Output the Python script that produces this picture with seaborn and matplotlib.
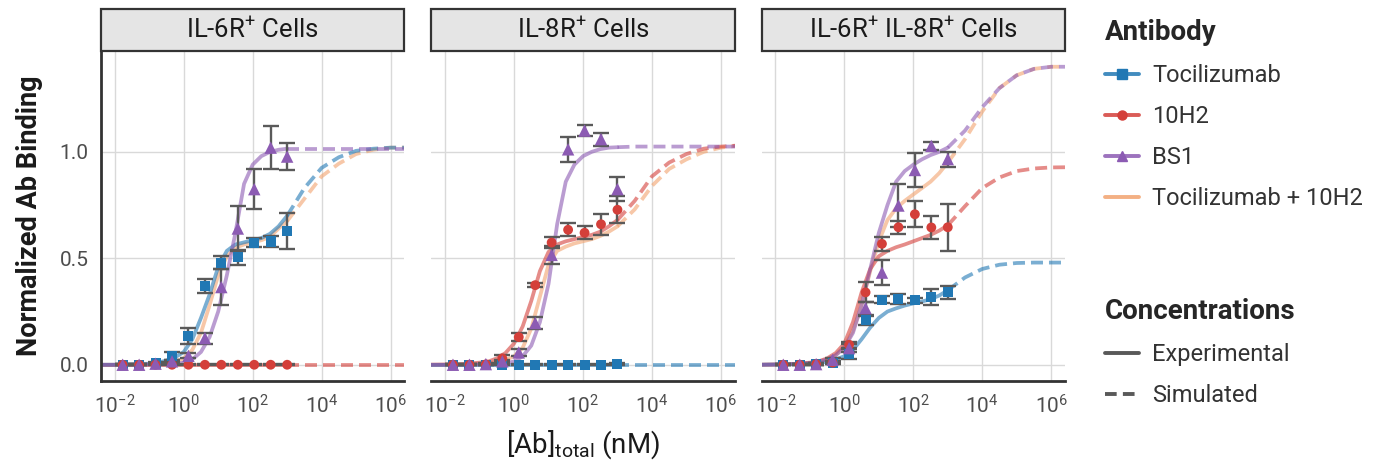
import numpy as np
import pandas as pd
import matplotlib
matplotlib.use('Agg')
import matplotlib.pyplot as plt
from matplotlib.lines import Line2D
from matplotlib.patches import Rectangle
from matplotlib.ticker import NullLocator, FormatStrFormatter
import matplotlib.colors as mcolors
import seaborn as sns

# %% data
panels = ['IL-6R$^{+}$ Cells', 'IL-8R$^{+}$ Cells', 'IL-6R$^{+}$ IL-8R$^{+}$ Cells']
antibodies = ['Tocilizumab', '10H2', 'BS1', 'Tocilizumab + 10H2']

# experimental concentrations [nM] (3-fold dilutions)
exp_conc = [0.0169, 0.0508, 0.152, 0.457, 1.37, 4.12, 12.3, 37.0, 111, 333, 1000]

# panel 1: IL-6R+ cells
p1_toci = [0, 0, 0.01, 0.04, 0.136, 0.37, 0.48, 0.505, 0.574, 0.579, 0.629]
p1_toci_err = [0.003, 0.003, 0.004, 0.019, 0.037, 0.031, 0.031, 0.035, 0.02, 0.027, 0.084]
p1_10h2 = [0, 0, 0, 0, 0, 0, 0, 0, 0, 0, 0]
p1_10h2_err = [0.003, 0.003, 0.003, 0.003, 0.003, 0.003, 0.003, 0.003, 0.003, 0.003, 0.003]
p1_bs1 = [0, 0, 0.005, 0.016, 0.042, 0.125, 0.365, 0.64, 0.825, 1.02, 0.978]
p1_bs1_err = [0.003, 0.003, 0.003, 0.005, 0.012, 0.026, 0.085, 0.104, 0.095, 0.10, 0.063]

# panel 2: IL-8R+ cells
p2_toci = [0, 0, 0, 0, 0, 0, 0, 0, 0, 0, 0.004]
p2_toci_err = [0.003, 0.003, 0.003, 0.003, 0.003, 0.003, 0.003, 0.003, 0.003, 0.003, 0.003]
p2_10h2 = [0, 0, 0.002, 0.03, 0.13, 0.374, 0.574, 0.634, 0.62, 0.66, 0.728]
p2_10h2_err = [0.003, 0.003, 0.003, 0.015, 0.02, 0.01, 0.027, 0.03, 0.03, 0.05, 0.063]
p2_bs1 = [0, 0, 0.003, 0.016, 0.058, 0.196, 0.516, 1.012, 1.10, 1.06, 0.825]
p2_bs1_err = [0.003, 0.003, 0.003, 0.008, 0.016, 0.029, 0.041, 0.06, 0.027, 0.031, 0.056]

# panel 3: IL-6R+ IL-8R+ cells
p3_toci = [0, 0, 0.002, 0.008, 0.052, 0.208, 0.305, 0.308, 0.302, 0.32, 0.34]
p3_toci_err = [0.003, 0.003, 0.003, 0.005, 0.023, 0.02, 0.016, 0.023, 0.012, 0.038, 0.03]
p3_10h2 = [0, 0, 0.003, 0.01, 0.094, 0.34, 0.568, 0.646, 0.707, 0.645, 0.646]
p3_10h2_err = [0.003, 0.003, 0.003, 0.008, 0.015, 0.047, 0.034, 0.03, 0.06, 0.056, 0.11]
p3_bs1 = [0, 0, 0.003, 0.023, 0.078, 0.266, 0.433, 0.748, 0.915, 1.028, 0.966]
p3_bs1_err = [0.003, 0.003, 0.003, 0.008, 0.02, 0.03, 0.06, 0.10, 0.08, 0.02, 0.035]

# model curves, log10 of total antibody concentration [nM]
sim_log10 = [-2.5, -2, -1.5, -1, -0.75, -0.5, -0.25, 0, 0.25, 0.5, 0.75, 1, 1.25, 1.5,
             1.75, 2, 2.25, 2.5, 2.75, 3, 3.5, 4, 4.5, 5, 5.5, 6, 6.5]
exp_max_log10 = 3  # experiments stop at 1000 nM, simulated beyond

s1_toci = [0, 0, 0.002, 0.005, 0.01, 0.02, 0.035, 0.06, 0.12, 0.22, 0.33, 0.46, 0.535, 0.565,
           0.575, 0.585, 0.595, 0.615, 0.65, 0.70, 0.83, 0.925, 0.975, 1.005, 1.015, 1.02, 1.02]
s1_10h2 = [0] * 27
s1_bs1 = [0, 0, 0, 0.001, 0.002, 0.003, 0.005, 0.01, 0.025, 0.06, 0.13, 0.25, 0.42, 0.62,
          0.85, 0.94, 0.98, 1.0, 1.01, 1.015, 1.015, 1.015, 1.015, 1.015, 1.015, 1.015, 1.015]
s1_combo = [0, 0, 0.001, 0.002, 0.004, 0.008, 0.015, 0.03, 0.07, 0.15, 0.28, 0.42, 0.51, 0.55,
            0.565, 0.575, 0.585, 0.60, 0.64, 0.675, 0.78, 0.885, 0.945, 0.99, 1.01, 1.02, 1.02]

s2_toci = [0] * 27
s2_10h2 = [0, 0.001, 0.003, 0.01, 0.015, 0.03, 0.055, 0.10, 0.18, 0.30, 0.44, 0.53, 0.565, 0.58,
           0.59, 0.60, 0.61, 0.625, 0.65, 0.68, 0.77, 0.885, 0.95, 0.99, 1.015, 1.025, 1.03]
s2_bs1 = [0, 0, 0, 0.001, 0.002, 0.004, 0.008, 0.015, 0.04, 0.09, 0.20, 0.38, 0.66, 0.86,
          0.94, 0.98, 1.0, 1.013, 1.02, 1.022, 1.025, 1.025, 1.025, 1.025, 1.025, 1.025, 1.025]
s2_combo = [0, 0, 0.001, 0.004, 0.007, 0.012, 0.022, 0.04, 0.08, 0.17, 0.32, 0.47, 0.535, 0.555,
            0.57, 0.58, 0.59, 0.605, 0.625, 0.65, 0.73, 0.84, 0.92, 0.965, 1.0, 1.02, 1.03]

s3_toci = [0, 0.001, 0.002, 0.005, 0.008, 0.014, 0.025, 0.04, 0.07, 0.12, 0.175, 0.22, 0.25, 0.265,
           0.278, 0.288, 0.297, 0.308, 0.325, 0.35, 0.41, 0.45, 0.47, 0.478, 0.48, 0.48, 0.48]
s3_10h2 = [0, 0.001, 0.003, 0.01, 0.016, 0.03, 0.055, 0.10, 0.20, 0.34, 0.45, 0.51, 0.535, 0.552,
           0.565, 0.58, 0.595, 0.61, 0.63, 0.655, 0.745, 0.83, 0.88, 0.91, 0.922, 0.927, 0.928]
s3_bs1 = [0, 0.001, 0.003, 0.008, 0.014, 0.025, 0.045, 0.08, 0.15, 0.28, 0.45, 0.62, 0.75, 0.86,
          0.91, 0.94, 0.965, 0.985, 1.0, 1.02, 1.10, 1.21, 1.30, 1.36, 1.39, 1.40, 1.40]
s3_combo = [0, 0.001, 0.003, 0.008, 0.014, 0.025, 0.045, 0.085, 0.16, 0.28, 0.44, 0.58, 0.68, 0.735,
            0.77, 0.80, 0.83, 0.86, 0.90, 0.95, 1.06, 1.19, 1.30, 1.36, 1.39, 1.40, 1.40]

marker_colors = {'Tocilizumab': '#2178B4', '10H2': '#D43F3A', 'BS1': '#8C5BB3',
                 'Tocilizumab + 10H2': '#F2A36E'}
marker_shapes = {'Tocilizumab': 's', '10H2': 'o', 'BS1': '^'}
marker_sizes = {'Tocilizumab': 52, '10H2': 50, 'BS1': 80}

# %% long tables
exp_sets = [(p1_toci, p1_toci_err, p1_10h2, p1_10h2_err, p1_bs1, p1_bs1_err),
            (p2_toci, p2_toci_err, p2_10h2, p2_10h2_err, p2_bs1, p2_bs1_err),
            (p3_toci, p3_toci_err, p3_10h2, p3_10h2_err, p3_bs1, p3_bs1_err)]
sim_sets = [(s1_toci, s1_10h2, s1_bs1, s1_combo),
            (s2_toci, s2_10h2, s2_bs1, s2_combo),
            (s3_toci, s3_10h2, s3_bs1, s3_combo)]

exp_rows = []
for p, vals in zip(panels, exp_sets):
    for k, ab in enumerate(antibodies[:3]):
        for c, y, e in zip(exp_conc, vals[2 * k], vals[2 * k + 1]):
            exp_rows.append({'panel': p, 'Antibody': ab, 'conc': c, 'binding': y, 'err': e})
exp_df = pd.DataFrame(exp_rows)

sim_rows = []
for p, vals in zip(panels, sim_sets):
    for ab, ys in zip(antibodies, vals):
        for lx, y in zip(sim_log10, ys):
            if lx <= exp_max_log10:
                sim_rows.append({'panel': p, 'Antibody': ab, 'conc': 10 ** lx, 'binding': y,
                                 'Concentrations': 'Experimental'})
            if lx >= exp_max_log10:
                sim_rows.append({'panel': p, 'Antibody': ab, 'conc': 10 ** lx, 'binding': y,
                                 'Concentrations': 'Simulated'})
sim_df = pd.DataFrame(sim_rows)

# %% plot
sns.set_theme(style='whitegrid')
plt.rcParams['font.family'] = ['Roboto', 'DejaVu Sans']
plt.rcParams['mathtext.fontset'] = 'custom'
plt.rcParams['mathtext.rm'] = 'Roboto'
plt.rcParams['mathtext.it'] = 'Roboto:italic'
plt.rcParams['mathtext.bf'] = 'Roboto:bold'
plt.rcParams['mathtext.default'] = 'regular'

W, H = 1374, 467
fig, axes = plt.subplots(1, 3, figsize=(W / 100, H / 100), dpi=100, sharey=True)
fig.subplots_adjust(left=101 / W, right=1065 / W, bottom=1 - 380.5 / H, top=1 - 51 / H,
                    wspace=27 / 304)

line_order = ['Tocilizumab + 10H2', '10H2', 'Tocilizumab', 'BS1']
dash_map = {'Experimental': '', 'Simulated': (3.2, 1.6)}

for i, (ax, p) in enumerate(zip(axes, panels)):
    sd = sim_df[sim_df['panel'] == p]
    sns.lineplot(ax=ax, data=sd, x='conc', y='binding', hue='Antibody', style='Concentrations',
                 hue_order=line_order, palette=marker_colors, dashes=dash_map,
                 estimator=None, sort=True, linewidth=2.7, alpha=0.6, legend=False, zorder=2)
    ed = exp_df[exp_df['panel'] == p]
    for ab in antibodies[:3]:
        d = ed[ed['Antibody'] == ab]
        ax.errorbar(d['conc'], d['binding'], yerr=d['err'], fmt='none', ecolor='#5A5A5A',
                    elinewidth=1.7, capsize=5.5, capthick=1.7, zorder=3)
    sns.scatterplot(ax=ax, data=ed, x='conc', y='binding', hue='Antibody', style='Antibody',
                    size='Antibody', sizes=marker_sizes, hue_order=antibodies[:3],
                    palette=marker_colors, markers=marker_shapes,
                    linewidth=0, legend=False, zorder=4)

    ax.set_xscale('log')
    ax.set_xlim(10 ** -2.4, 10 ** 6.4)
    ax.set_ylim(-0.074, 1.474)
    ax.set_xticks([1e-2, 1e0, 1e2, 1e4, 1e6])
    ax.xaxis.set_minor_locator(NullLocator())
    ax.set_yticks([0, 0.5, 1.0])
    ax.yaxis.set_major_formatter(FormatStrFormatter('%.1f'))
    ax.grid(True, color='#D9D9D9', linewidth=1.0)
    ax.set_xlabel('')
    ax.set_ylabel('')
    for side in ['top', 'right']:
        ax.spines[side].set_visible(False)
    ax.spines['bottom'].set_color('#333333')
    ax.spines['bottom'].set_linewidth(2.0)
    if i == 0:
        ax.spines['left'].set_color('#333333')
        ax.spines['left'].set_linewidth(2.0)
    else:
        ax.spines['left'].set_visible(False)
    ax.tick_params(axis='x', length=5, width=1.2, color='#555555', labelsize=15,
                   labelcolor='#4D4D4D', pad=5)
    ax.tick_params(axis='y', length=5 if i == 0 else 0, width=1.2, color='#555555',
                   labelsize=15, labelcolor='#4D4D4D', pad=4)

    strip_h = 42 / 329.5
    ax.add_patch(Rectangle((0, 1), 1, strip_h, transform=ax.transAxes, clip_on=False,
                           facecolor='#E5E5E5', edgecolor='#333333', linewidth=1.6, zorder=5))
    ax.text(0.5, 1 + strip_h / 2, p, transform=ax.transAxes, ha='center', va='center',
            fontsize=18.5, color='#1A1A1A', zorder=6)

fig.text(30 / W, 1 - 216 / H, 'Normalized Ab Binding', rotation=90, ha='center', va='center',
         fontsize=19.5, fontweight='bold', color='#1A1A1A')
fig.text(583 / W, 1 - 445 / H, '[Ab]$_{\\mathregular{total}}$ (nM)', ha='center', va='center',
         fontsize=20, color='#1A1A1A')

ab_handles = []
for ab in antibodies:
    rgba = mcolors.to_rgba(marker_colors[ab], 0.85)
    ab_handles.append(Line2D([0], [0], color=rgba, lw=2.8, marker=marker_shapes.get(ab, 'None'),
                             markersize=6.5, markerfacecolor=marker_colors[ab],
                             markeredgecolor=marker_colors[ab]))
legend_kw = dict(loc='upper left', frameon=False, fontsize=17,
                 title_fontproperties={'weight': 'bold', 'size': 20}, alignment='left',
                 handlelength=1.45, handletextpad=0.55, labelspacing=0.76, borderaxespad=0,
                 borderpad=0)
leg1 = fig.legend(ab_handles, antibodies, title='Antibody',
                  bbox_to_anchor=(1105 / W, 1 - 19 / H), **legend_kw)
for t in leg1.get_texts():
    t.set_color('#333333')

conc_handles = [Line2D([0], [0], color='#595959', lw=2.8),
                Line2D([0], [0], color='#595959', lw=2.8, ls=(0, (3, 1.6)))]
leg2 = fig.legend(conc_handles, ['Experimental', 'Simulated'], title='Concentrations',
                  bbox_to_anchor=(1105 / W, 1 - 298 / H), **legend_kw)
for t in leg2.get_texts():
    t.set_color('#333333')

fig.savefig('out.png', dpi=100)
